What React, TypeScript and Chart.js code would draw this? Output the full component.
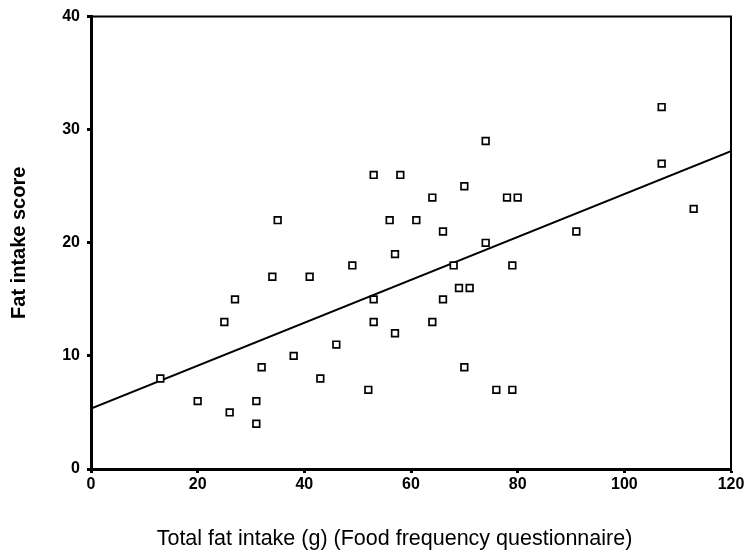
import React, { useEffect, useRef } from "react";
import { Chart, registerables } from "chart.js";

Chart.register(...registerables);

const fatIntake = [13, 20, 25, 26, 27, 31, 31, 32, 34, 35, 38, 41, 43, 46, 49, 52, 53, 53, 53, 56, 57, 57, 58, 61, 64, 64, 66, 66, 68, 69, 70, 70, 71, 74, 74, 76, 78, 79, 79, 80, 91, 107, 107, 113];
const fatScore = [8, 6, 13, 5, 15, 6, 4, 9, 17, 22, 10, 17, 8, 11, 18, 7, 26, 15, 13, 22, 19, 12, 26, 22, 24, 13, 21, 15, 18, 16, 25, 9, 16, 29, 20, 7, 24, 18, 7, 24, 21, 32, 27, 23];
const fitX = [0, 120];
const fitY = [5.35, 28.1];
const xTicks = [0, 20, 40, 60, 80, 100, 120];
const yTicks = [0, 10, 20, 30, 40];
const xTitle = "Total fat intake (g) (Food frequency questionnaire)";
const yTitle = "Fat intake score";

const FONT = "'Liberation Sans', Arial, Helvetica, sans-serif";

const frame = {
  id: "frame",
  afterDraw(chart: any) {
    const { ctx, chartArea } = chart;
    ctx.save();
    ctx.strokeStyle = "#000";
    ctx.lineWidth = 2;
    ctx.beginPath();
    ctx.moveTo(chartArea.left, chartArea.top);
    ctx.lineTo(chartArea.right, chartArea.top);
    ctx.lineTo(chartArea.right, chartArea.bottom);
    ctx.stroke();
    // x-axis title (offset left of the plot centre, as in the original)
    ctx.fillStyle = "#000";
    ctx.font = `21.5px ${FONT}`;
    ctx.textAlign = "center";
    ctx.textBaseline = "alphabetic";
    ctx.fillText(xTitle, 394.5, 545);
    ctx.restore();
  },
};

export default function App() {
  const ref = useRef<HTMLCanvasElement | null>(null);
  useEffect(() => {
    if (!ref.current) return;
    const chart = new Chart(ref.current, {
      type: "scatter",
      data: {
        datasets: [
          {
            label: "points",
            data: fatIntake.map((x, i) => ({ x, y: fatScore[i] })),
            pointStyle: "rect",
            pointRadius: 4.7,
            pointBorderWidth: 1.7,
            pointBorderColor: "#000",
            pointBackgroundColor: "#fff",
            showLine: false,
            order: 1,
          },
          {
            label: "fit",
            data: fitX.map((x, i) => ({ x, y: fitY[i] })),
            showLine: true,
            borderColor: "#000",
            borderWidth: 2,
            pointRadius: 0,
            order: 2,
          },
        ],
      },
      plugins: [frame],
      options: {
        responsive: false,
        animation: false,
        layout: { padding: { top: 16, right: 16, left: 0, bottom: 0 } },
        plugins: { legend: { display: false }, tooltip: { enabled: false } },
        scales: {
          x: {
            type: "linear",
            min: 0,
            max: 120,
            afterBuildTicks: (s: any) => {
              s.ticks = xTicks.map((v) => ({ value: v }));
            },
            afterFit: (s: any) => {
              s.height = 84;
            },
            grid: { drawOnChartArea: false, tickLength: 4, tickColor: "#000", tickWidth: 3 },
            border: { display: true, color: "#000", width: 3 },
            ticks: {
              color: "#000",
              padding: 2,
              maxRotation: 0,
              font: { family: FONT, size: 16, weight: "bold" },
            },
            title: { display: false },
          },
          y: {
            type: "linear",
            min: 0,
            max: 40,
            afterBuildTicks: (s: any) => {
              s.ticks = yTicks.map((v) => ({ value: v }));
            },
            afterFit: (s: any) => {
              s.width = 91;
            },
            grid: { drawOnChartArea: false, tickLength: 4, tickColor: "#000", tickWidth: 3 },
            border: { display: true, color: "#000", width: 3 },
            ticks: {
              color: "#000",
              padding: 7,
              font: { family: FONT, size: 16, weight: "bold" },
            },
            title: {
              display: true,
              text: yTitle,
              color: "#000",
              padding: { top: 7, bottom: 0 },
              font: { family: FONT, size: 20, weight: "bold" },
            },
          },
        },
      },
    } as any);
    return () => chart.destroy();
  }, []);
  return (
    <div style={{ position: "fixed", left: 0, top: 0, width: 747, height: 553, background: "#fff" }}>
      <canvas ref={ref} width={747} height={553} />
    </div>
  );
}
